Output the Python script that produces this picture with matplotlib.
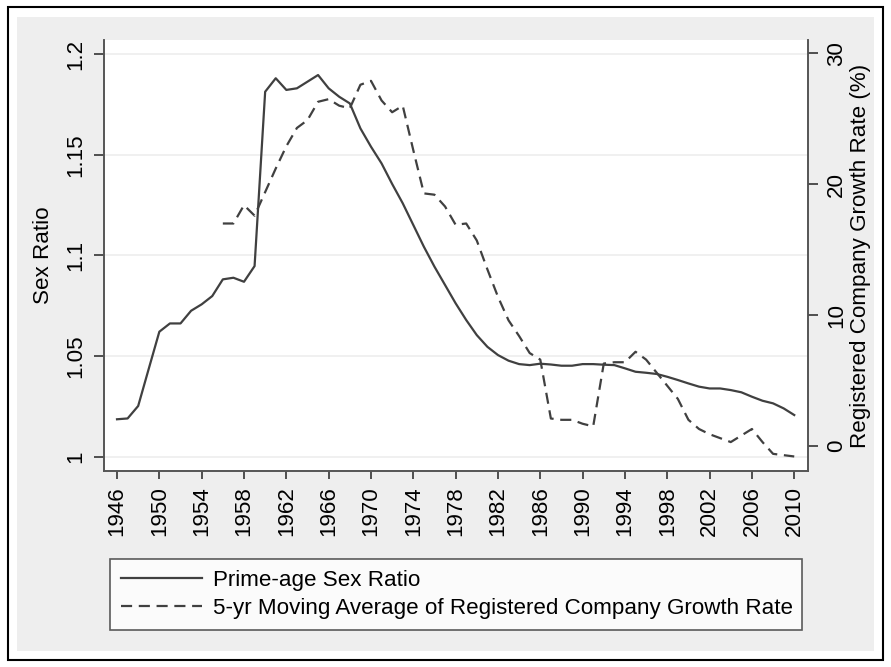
import numpy as np
import matplotlib.pyplot as plt
from matplotlib.patches import Rectangle
from matplotlib.lines import Line2D

plt.rcParams['font.family'] = ['Liberation Sans', 'DejaVu Sans']

years = np.arange(1946, 2011)
sex_ratio = [1.0186, 1.0190, 1.0252, 1.0437, 1.0621, 1.0662, 1.0662, 1.0725, 1.0757, 1.0798,
             1.0881, 1.0889, 1.0869, 1.0947, 1.1813, 1.1880, 1.1822, 1.1830, 1.1863, 1.1896,
             1.1830, 1.1788, 1.1755, 1.1631, 1.1540, 1.1457, 1.1355, 1.1259, 1.1151, 1.1043,
             1.0944, 1.0853, 1.0762, 1.0679, 1.0604, 1.0546, 1.0505, 1.0477, 1.0460, 1.0455,
             1.0462, 1.0458, 1.0452, 1.0452, 1.0460, 1.0460, 1.0457, 1.0455, 1.0439, 1.0422,
             1.0417, 1.0411, 1.0397, 1.0381, 1.0364, 1.0348, 1.0339, 1.0339, 1.0331, 1.0320,
             1.0298, 1.0278, 1.0265, 1.0240, 1.0207]

growth_years = np.arange(1956, 2011)
growth_ma = [17.0, 17.0, 18.4, 17.6, 19.4, 21.2, 22.9, 24.3, 24.9, 26.3,
             26.5, 26.0, 25.8, 27.6, 27.9, 26.4, 25.5, 26.0, 22.6, 19.3,
             19.2, 18.3, 16.9, 17.0, 15.7, 13.5, 11.4, 9.6, 8.4, 7.1,
             6.6, 2.1, 2.0, 2.0, 1.7, 1.5, 6.3, 6.4, 6.4, 7.2,
             6.6, 5.6, 4.6, 3.6, 2.0, 1.3, 0.9, 0.6, 0.3, 0.8,
             1.3, 0.3, -0.6, -0.7, -0.8]

xticks = np.arange(1946, 2011, 4)
left_ticks = [1, 1.05, 1.1, 1.15, 1.2]
left_labels = ['1', '1.05', '1.1', '1.15', '1.2']
right_ticks = [0, 10, 20, 30]

W, H = 891, 667
fs = 16.1
line_col = '#404040'

fig = plt.figure(figsize=(W / 100, H / 100), dpi=100, facecolor='white')
# outer frame and grey graph region
fig.patches.append(Rectangle((8 / W, 1 - 660 / H), 875 / W, 653 / H, transform=fig.transFigure,
                             facecolor='white', edgecolor='black', lw=1.5, zorder=-2))
fig.patches.append(Rectangle((17 / W, 1 - 651 / H), 857 / W, 634 / H, transform=fig.transFigure,
                             facecolor='#eeeeee', edgecolor='none', zorder=-1))

ax = fig.add_axes([104 / W, 1 - 471 / H, 704 / W, 431 / H])
ax.set_facecolor('white')
ax2 = ax.twinx()

ax.plot(years, sex_ratio, color=line_col, lw=1.6, zorder=3)
ax2.plot(growth_years, growth_ma, color=line_col, lw=1.6, dashes=(5, 3))

ax.set_xlim(1944.77, 2011.3)
ax.set_ylim(0.9929, 1.2070)
ax2.set_ylim(-1.91, 31.02)

ax.set_yticks(left_ticks)
ax.set_yticklabels(left_labels)
ax.set_xticks(xticks)
ax2.set_yticks(right_ticks)
ax.grid(axis='y', color='#eeeeee', lw=1.2)
ax.set_axisbelow(True)

for a in (ax, ax2):
    a.spines['top'].set_visible(False)
    for s in a.spines.values():
        s.set_color('#555555')
        s.set_linewidth(1.2)

ax.tick_params(axis='x', labelsize=fs, rotation=90, length=6, width=1.2, pad=5, color='#333333')
ax.tick_params(axis='y', labelsize=fs, length=7, width=1.2, pad=6, color='#333333')
ax2.tick_params(axis='y', labelsize=fs, length=7, width=1.2, pad=6, color='#333333')
for lab in ax.get_yticklabels() + ax2.get_yticklabels():
    lab.set_rotation(90)
    lab.set_va('center')
for lab in ax2.get_yticklabels():
    lab.set_ha('left')

ax.set_ylabel('Sex Ratio', fontsize=fs, labelpad=8)
ax2.set_ylabel('Registered Company Growth Rate (%)', fontsize=fs, labelpad=2, rotation=90)

handles = [Line2D([], [], color=line_col, lw=1.6),
           Line2D([], [], color=line_col, lw=1.6, dashes=(5, 3))]
labels = ['Prime-age Sex Ratio', '5-yr Moving Average of Registered Company Growth Rate']
leg = fig.legend(handles, labels, loc='lower left',
                 bbox_to_anchor=(110 / W, 1 - 630 / H, 692 / W, 73 / H), mode='expand',
                 fontsize=fs, frameon=True, fancybox=False, handlelength=3.6,
                 handletextpad=0.5, borderpad=0.5, labelspacing=0.3, borderaxespad=0)
leg.get_frame().set_edgecolor('#333333')
leg.get_frame().set_linewidth(1.2)

fig.savefig('out.png', dpi=100)
